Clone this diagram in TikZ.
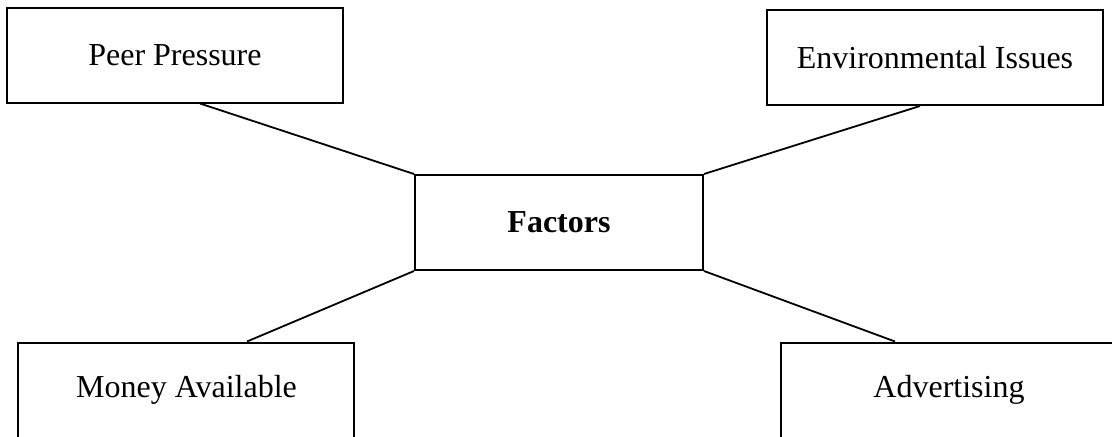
\documentclass[tikz,border=0pt]{standalone}
\usepackage{fontspec}
\setmainfont{Liberation Serif}
\usepackage{tikz}
\newcommand{\vshim}{83.75pt}
\newcommand{\nd}{180pt}
\tikzset{
  factbox/.style={draw, line width=1pt, minimum width=168pt, minimum height=47.5pt,
                  inner sep=0pt, font=\fontsize{16}{19}\selectfont},
  link/.style={line width=0.9pt}
}

\begin{document}
\begin{tikzpicture}[node distance=\nd]
  \useasboundingbox (-279.5pt,-106.75pt) rectangle (276.5pt,111.25pt);

  \node (fac) [factbox, minimum width=144pt] {\textbf{Factors}};

  \node (peer) [factbox, left of=fac
               ,xshift=-12pt, yshift=\vshim]  {Peer Pressure};
  \node (env)  [factbox, right of=fac
               ,xshift=8pt, yshift=\vshim-1.25pt] {Environmental Issues};
  \node (money) [factbox, left of=fac
               ,xshift=-6.25pt, yshift=-\vshim] {Money Available};
  \node (adv)  [factbox, right of=fac
               ,xshift=15pt, yshift=-\vshim]  {Advertising};

  \draw[link] ([xshift=12.5pt]peer.south) -- (fac.north west);
  \draw[link] ([xshift=-7.5pt]env.south) -- (fac.north east);
  \draw[link] (fac.south west) -- ([xshift=30.25pt]money.north);
  \draw[link] (fac.south east) -- ([xshift=-27pt]adv.north);

\end{tikzpicture}
\end{document}
